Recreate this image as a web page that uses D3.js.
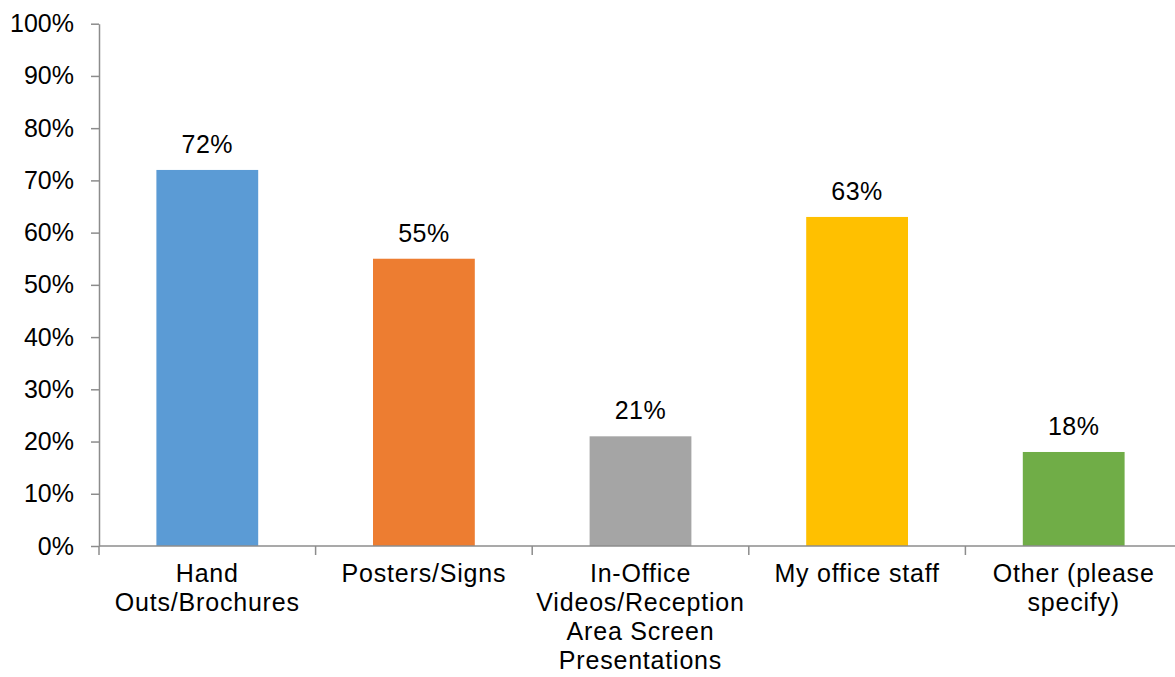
<!DOCTYPE html>
<html>
<head>
<meta charset="utf-8">
<script src="https://cdn.jsdelivr.net/npm/d3@7"></script>
<style>
  html, body { margin: 0; padding: 0; background: #fff; }
  svg { display: block; font-family: "Liberation Sans", Arial, sans-serif; }
</style>
</head>
<body>
<svg id="chart" width="1175" height="677"></svg>
<script>
// Survey responses: share of respondents per channel
const categories = [
  "Hand Outs/Brochures",
  "Posters/Signs",
  "In-Office Videos/Reception Area Screen Presentations",
  "My office staff",
  "Other (please specify)"
];
const values = [0.72, 0.55, 0.21, 0.63, 0.18];
const colors = ["#5B9BD5", "#ED7D31", "#A5A5A5", "#FFC000", "#70AD47"];
const yTicks = [0, 0.1, 0.2, 0.3, 0.4, 0.5, 0.6, 0.7, 0.8, 0.9, 1.0];

const data = categories.map((c, i) => ({ cat: c, value: values[i], color: colors[i] }));

const svg = d3.select("#chart");
const axisColor = "#8c8c8c";
const fontSize = 25;

const plotLeft = 99, plotBottom = 546, plotTop = 23.7;
const step = 216.6;
const plotRight = plotLeft + step * categories.length;

const x = d3.scaleBand()
  .domain(categories)
  .range([plotLeft, plotRight])
  .paddingInner(0.53)
  .paddingOuter(0.265);

const y = d3.scaleLinear().domain([0, 1]).range([plotBottom, plotTop]);

const pct = d3.format(".0%");

// Y axis
const yAxis = svg.append("g")
  .attr("transform", `translate(${plotLeft},0)`)
  .call(d3.axisLeft(y).tickValues(yTicks).tickFormat(pct).tickSizeOuter(0).tickSizeInner(8).tickPadding(17));
yAxis.select(".domain").attr("stroke", axisColor).attr("stroke-width", 1.5);
yAxis.selectAll(".tick line").attr("stroke", axisColor).attr("stroke-width", 1.5);
yAxis.selectAll(".tick text")
  .attr("fill", "#000")
  .style("font-size", fontSize + "px")
  .style("font-family", "'Liberation Sans', Arial, sans-serif");

// Bars
svg.append("g").selectAll("rect")
  .data(data)
  .join("rect")
  .attr("x", d => x(d.cat))
  .attr("y", d => y(d.value))
  .attr("width", x.bandwidth())
  .attr("height", d => y(0) - y(d.value))
  .attr("fill", d => d.color);

// Value labels
svg.append("g").selectAll("text")
  .data(data)
  .join("text")
  .attr("x", d => x(d.cat) + x.bandwidth() / 2)
  .attr("y", d => y(d.value) - 17)
  .attr("text-anchor", "middle")
  .attr("fill", "#000")
  .style("font-size", fontSize + "px")
  .style("letter-spacing", "0.5px")
  .text(d => pct(d.value));

// X axis line with ticks at category boundaries
const xg = svg.append("g");
xg.append("line")
  .attr("x1", plotLeft).attr("x2", plotRight)
  .attr("y1", y(0)).attr("y2", y(0))
  .attr("stroke", axisColor).attr("stroke-width", 1.5);
xg.selectAll("line.tick")
  .data(d3.range(categories.length + 1))
  .join("line")
  .attr("class", "tick")
  .attr("x1", i => plotLeft + i * x.step())
  .attr("x2", i => plotLeft + i * x.step())
  .attr("y1", y(0)).attr("y2", y(0) + 9)
  .attr("stroke", axisColor).attr("stroke-width", 1.5);

// Category labels, wrapped to fit the category width
const lineHeight = 29;
const wrapWidth = x.step() * 0.97;
const labels = xg.selectAll("text.cat")
  .data(categories)
  .join("text")
  .attr("class", "cat")
  .attr("text-anchor", "middle")
  .attr("fill", "#000")
  .style("font-size", fontSize + "px")
  .style("letter-spacing", "0.8px");

labels.each(function(d) {
  const t = d3.select(this);
  const cx = x(d) + x.bandwidth() / 2;
  const words = d.split(" ");
  const lines = [];
  let cur = [];
  const probe = t.append("tspan");
  words.forEach(w => {
    const trial = cur.concat([w]).join(" ");
    probe.text(trial);
    if (probe.node().getComputedTextLength() > wrapWidth && cur.length) {
      lines.push(cur.join(" "));
      cur = [w];
    } else {
      cur.push(w);
    }
  });
  if (cur.length) lines.push(cur.join(" "));
  probe.remove();
  lines.forEach((ln, i) => {
    t.append("tspan")
      .attr("x", cx)
      .attr("y", 581.5 + i * lineHeight)
      .text(ln);
  });
});
</script>
</body>
</html>
